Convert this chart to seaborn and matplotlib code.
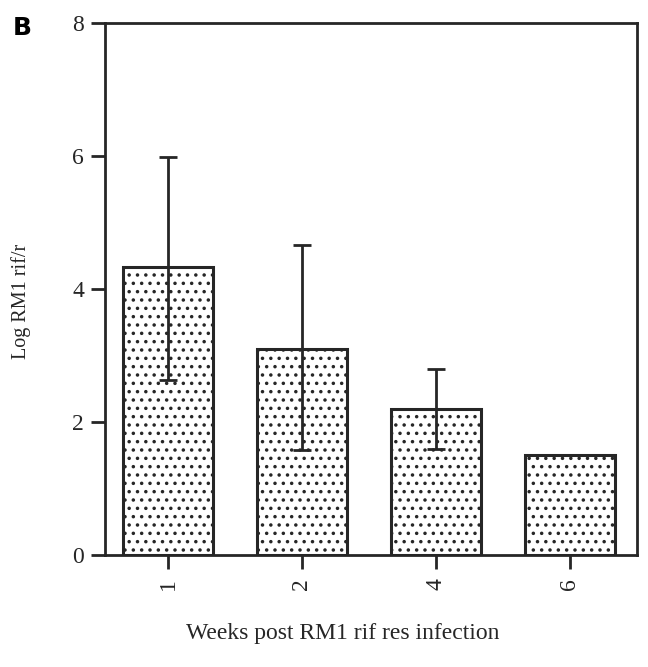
import matplotlib
matplotlib.use("Agg")
import matplotlib.pyplot as plt
import seaborn as sns
import numpy as np
import pandas as pd

weeks = ["1", "2", "4", "6"]
means = [4.33, 3.10, 2.20, 1.50]
err_low = [2.63, 1.58, 1.59, np.nan]
err_high = [5.98, 4.66, 2.80, np.nan]

sns.set_theme(style="ticks")
plt.rcParams['font.family'] = ['Liberation Serif', 'DejaVu Serif']
plt.rcParams['hatch.linewidth'] = 1.3
plt.rcParams['hatch.color'] = '#333333'

ink = "#262626"
fig = plt.figure(figsize=(6.48, 6.67), dpi=100)
ax = fig.add_axes([105/648, 1-555/667, 532/648, 532/667])

df = pd.DataFrame({"week": weeks, "value": means})
sns.barplot(data=df, x="week", y="value", ax=ax, color="white", width=0.67,
            edgecolor=ink, linewidth=2.2, errorbar=None, zorder=2)
for p in ax.patches:
    p.set_hatch('..')

x = np.arange(len(weeks))
m = np.array(means)
lo = np.array(err_low)
hi = np.array(err_high)
mask = ~np.isnan(lo)
ax.errorbar(x[mask], m[mask], yerr=[m[mask] - lo[mask], hi[mask] - m[mask]],
            fmt='none', ecolor=ink, elinewidth=2.0, capsize=6.5, capthick=2.0, zorder=3)

ax.set_xlim(-0.47, 3.5)
ax.set_ylim(0, 8)
ax.set_yticks([0, 2, 4, 6, 8])
ax.set_xticks(x)
ax.set_xticklabels(weeks, rotation=90)
for s in ax.spines.values():
    s.set_visible(True)
    s.set_linewidth(2.0)
    s.set_color(ink)
ax.tick_params(axis='both', direction='out', length=10, width=2.0, color=ink,
               labelsize=17, labelcolor=ink)
ax.tick_params(axis='y', pad=5)
ax.tick_params(axis='x', pad=7)
ax.set_xlabel("Weeks post RM1 rif res infection", fontsize=17, color=ink, va='center')
ax.xaxis.set_label_coords(0.447, -0.147)
ax.set_ylabel("Log RM1 rif/r", fontsize=14.5, color=ink, va='center')
ax.yaxis.set_label_coords(-0.157, 0.476)

fig.text(13/648, 1-16/667, "B", fontsize=18, fontweight="bold", family="DejaVu Sans",
         color="black", va="top", ha="left")

fig.savefig("out.png", dpi=100, facecolor="white")
